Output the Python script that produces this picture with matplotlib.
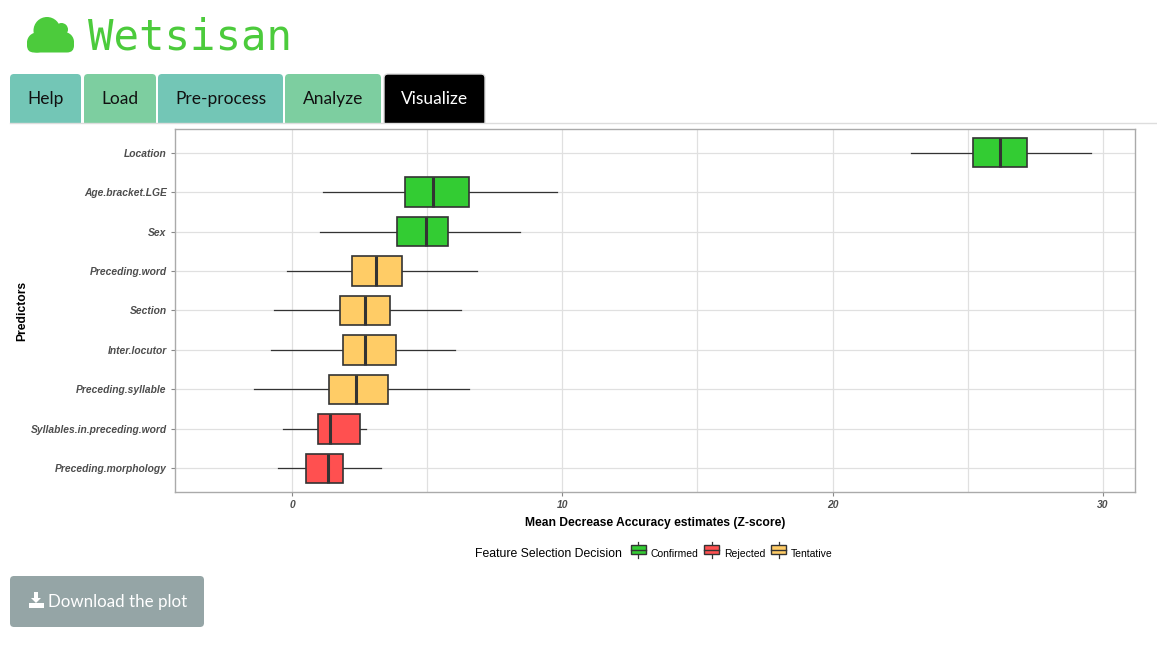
import numpy as np
import matplotlib
matplotlib.use('Agg')
import matplotlib.pyplot as plt
from matplotlib.patches import Rectangle, FancyBboxPatch, Circle, Polygon, Patch
from matplotlib.lines import Line2D
from matplotlib.legend_handler import HandlerBase

W, H = 1157, 657

# Boruta importance summaries, top to bottom
predictors = ['Location', 'Age.bracket.LGE', 'Sex', 'Preceding.word', 'Section',
              'Inter.locutor', 'Preceding.syllable', 'Syllables.in.preceding.word',
              'Preceding.morphology']
decision = ['Confirmed', 'Confirmed', 'Confirmed', 'Tentative', 'Tentative',
            'Tentative', 'Tentative', 'Rejected', 'Rejected']
whisker_lo = [22.9, 1.15, 1.04, -0.18, -0.67, -0.78, -1.41, -0.33, -0.52]
q1 = [25.2, 4.18, 3.88, 2.22, 1.78, 1.89, 1.37, 0.96, 0.52]
median = [26.2, 5.22, 4.96, 3.11, 2.70, 2.70, 2.37, 1.41, 1.33]
q3 = [27.2, 6.55, 5.77, 4.07, 3.63, 3.85, 3.55, 2.52, 1.89]
whisker_hi = [29.56, 9.80, 8.43, 6.84, 6.25, 6.03, 6.55, 2.74, 3.29]

palette = {'Confirmed': '#33CC33', 'Rejected': '#FF5050', 'Tentative': '#FFCC66'}
tabs = ['Help', 'Load', 'Pre-process', 'Analyze', 'Visualize']
tab_x = [(10, 81), (84, 156), (158, 283), (285, 381), (384, 485)]
tab_colors = ['#73C6B6', '#7DCEA0', '#73C6B6', '#7DCEA0', '#000000']

fig = plt.figure(figsize=(W / 100, H / 100), dpi=100)

# page chrome in pixel coordinates
ui = fig.add_axes([0, 0, 1, 1], zorder=0)
ui.set_xlim(0, W)
ui.set_ylim(H, 0)
ui.axis('off')

green = '#4CCB3C'
ui.add_patch(FancyBboxPatch((27, 38), 47, 14.5, boxstyle='round,pad=0,rounding_size=7',
                            fc=green, ec='none'))
ui.add_patch(Circle((37, 42.5), 10, fc=green, ec='none'))
ui.add_patch(Circle((47, 30.5), 13.5, fc=green, ec='none'))
ui.add_patch(Circle((61.5, 29.5), 6.5, fc=green, ec='none'))
ui.add_patch(Circle((64, 42), 10, fc=green, ec='none'))
ui.text(88, 37, 'Wetsisan', family='DejaVu Sans Mono', fontsize=30.5, color=green,
        va='center', ha='left')

ui.plot([10, W], [122.5, 122.5], color='#DDDDDD', lw=1)
for name, (x0, x1), c in zip(tabs, tab_x, tab_colors):
    ui.add_patch(FancyBboxPatch((x0, 74), x1 - x0, 52, boxstyle='round,pad=0,rounding_size=4',
                                fc=c, ec='#DDDDDD' if c == '#000000' else 'none', lw=1))
    ui.text((x0 + x1) / 2, 99, name, family='Lato', fontsize=12.5,
            color='white' if c == '#000000' else '#111111', ha='center', va='center')
ui.add_patch(Rectangle((0, 123), W, 5, fc='white', ec='none'))

ui.add_patch(FancyBboxPatch((10, 576), 194, 51, boxstyle='round,pad=0,rounding_size=4',
                            fc='#95A5A6', ec='none'))
ui.add_patch(Polygon([(34, 592), (38, 592), (38, 598), (41, 598), (36, 603), (31, 598), (34, 598)],
                     closed=True, fc='white', ec='none'))
ui.add_patch(Rectangle((29, 603), 15, 5, fc='white', ec='none'))
ui.text(48, 601.5, 'Download the plot', family='Lato', fontsize=12.2, color='white',
        ha='left', va='center')

# boxplot panel
ax = fig.add_axes([175 / W, 1 - 492 / H, 960 / W, 363 / H], zorder=1)
pos = np.arange(len(predictors), 0, -1)
stats = [dict(whislo=a, q1=b, med=c, q3=d, whishi=e, fliers=[])
         for a, b, c, d, e in zip(whisker_lo, q1, median, q3, whisker_hi)]
bp = ax.bxp(stats, positions=pos, vert=False, widths=0.75, patch_artist=True,
            showcaps=False,
            boxprops=dict(edgecolor='#333333', linewidth=1.2),
            medianprops=dict(color='#333333', linewidth=2.2),
            whiskerprops=dict(color='#333333', linewidth=0.9))
for patch, d in zip(bp['boxes'], decision):
    patch.set_facecolor(palette[d])
    patch.set_zorder(3)
for m in bp['medians']:
    m.set_zorder(4)

ax.set_xticks([0, 10, 20, 30])
ax.set_xticks([5, 15, 25], minor=True)
ax.set_yticks(pos)
ax.set_yticklabels(predictors)
ax.set_xlim(-4.33, 31.19)
ax.set_ylim(0.4, len(predictors) + 0.6)
ax.grid(True, which='both', color='#E0E0E0', linewidth=0.9, zorder=0)
ax.set_axisbelow(True)
ax.tick_params(which='minor', length=0)
ax.tick_params(which='major', length=3, color='#888888', width=0.8, pad=3,
               labelsize=7.4, labelcolor='#4D4D4D')
for lab in ax.get_xticklabels() + ax.get_yticklabels():
    lab.set_fontstyle('italic')
    lab.set_fontweight('bold')
    lab.set_family('Liberation Sans')
for s in ax.spines.values():
    s.set_color('#AAAAAA')
    s.set_linewidth(1)
ax.set_xlabel('Mean Decrease Accuracy estimates (Z-score)', family='Liberation Sans',
              fontsize=8.7, fontweight='bold', labelpad=5)
ax.set_ylabel('Predictors', family='Liberation Sans', fontsize=8.7, fontweight='bold',
              labelpad=1.5)


class BoxKey(HandlerBase):
    def create_artists(self, legend, orig, xd, yd, w, h, fontsize, trans):
        cx, cy = xd + w / 2, yd + h / 2
        arts = [Line2D([cx, cx], [yd - 0.2 * h, yd + 1.2 * h], color='#333333', lw=0.9),
                Rectangle((xd, yd + 0.1 * h), w, 0.8 * h, fc=orig.get_facecolor(),
                          ec='#333333', lw=1),
                Line2D([xd, xd + w], [cy, cy], color='#333333', lw=1)]
        for a in arts:
            a.set_transform(trans)
        return arts


handles = [Patch(fc=palette[k]) for k in palette]
fig.text(475 / W, 1 - 554 / H, 'Feature Selection Decision', family='Liberation Sans',
         fontsize=8.8, ha='left', va='center')
fig.legend(handles, list(palette), handler_map={Patch: BoxKey()}, ncol=3,
           loc='center left', bbox_to_anchor=(631 / W, 1 - 554 / H), frameon=False,
           borderpad=0, borderaxespad=0, handlelength=1.4, handleheight=1.3,
           handletextpad=0.45, columnspacing=0.6,
           prop=dict(family='Liberation Sans', size=7.5))

fig.savefig('out.png', dpi=100)
